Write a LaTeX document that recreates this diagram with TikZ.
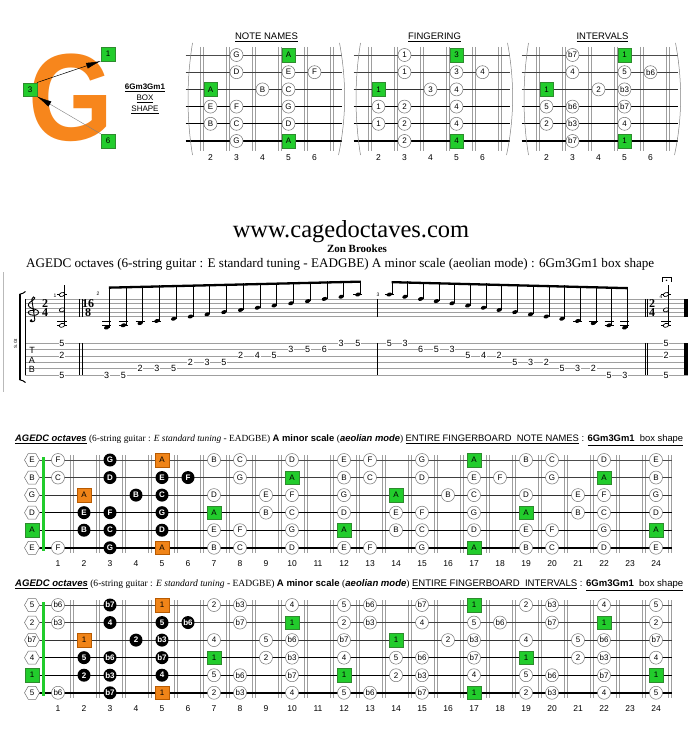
\documentclass[tikz,border=0pt]{standalone}
\usepackage{fontspec}
\usepackage{graphicx}
\setmainfont{Liberation Serif}
\setsansfont{Liberation Sans}
\usetikzlibrary{shapes.geometric,arrows.meta}
\definecolor{gfill}{HTML}{22CC2C}
\definecolor{gline}{HTML}{2E8B2E}
\definecolor{ofill}{HTML}{F08418}
\definecolor{oline}{HTML}{B85A00}
\definecolor{logoG}{HTML}{F7861C}
\definecolor{fretgray}{gray}{0.62}
\definecolor{circgray}{gray}{0.45}
\newcommand\sfs[1]{\sffamily\fontsize{#1}{#1}\selectfont}
\newcommand\rms[1]{\rmfamily\fontsize{#1}{#1}\selectfont}
\tikzset{
  nw/.style={circle,draw=circgray,fill=white,line width=0.5pt,inner sep=0pt,minimum size=13pt,font=\sfs{8}},
  nb/.style={circle,fill=black,text=white,inner sep=0pt,minimum size=13pt,font=\sfs{8}\bfseries},
  ng/.style={rectangle,fill=gfill,draw=gline,line width=0.4pt,inner sep=0pt,minimum size=13.5pt,font=\sfs{8}},
  no/.style={rectangle,fill=ofill,draw=oline,line width=0.4pt,inner sep=0pt,minimum size=13.5pt,font=\sfs{8}},
  nh/.style={regular polygon,regular polygon sides=6,draw=circgray,fill=white,line width=0.5pt,inner sep=0pt,minimum size=15pt,font=\sfs{8}},
  fretline/.style={fretgray,line width=0.5pt},
  tabnum/.style={fill=white,inner sep=0.6pt,font=\sfs{9}},
  stafl/.style={gray!75,line width=0.4pt},
  thinbar/.style={black,line width=0.5pt},
  ledger/.style={black,line width=0.5pt},
  ehead/.style={ellipse,fill=black,inner sep=0pt,minimum width=5.6pt,minimum height=3.8pt,rotate=20},
  hhead/.style={ellipse,draw=black,line width=0.7pt,fill=white,inner sep=0pt,minimum width=5.6pt,minimum height=3.8pt,rotate=20},
  mnum/.style={font=\sfs{5},inner sep=0pt},
  tsig/.style={font=\rms{12}\bfseries,inner sep=0pt},
}
\newcommand\notelist{%
1/1/F/b6/nw,1/3/G/b7/nb,1/5/A/1/no,1/7/B/2/nw,1/8/C/b3/nw,1/10/D/4/nw,1/12/E/5/nw,1/13/F/b6/nw,1/15/G/b7/nw,1/17/A/1/ng,1/19/B/2/nw,1/20/C/b3/nw,1/22/D/4/nw,1/24/E/5/nw,%
2/1/C/b3/nw,2/3/D/4/nb,2/5/E/5/nb,2/6/F/b6/nb,2/8/G/b7/nw,2/10/A/1/ng,2/12/B/2/nw,2/13/C/b3/nw,2/15/D/4/nw,2/17/E/5/nw,2/18/F/b6/nw,2/20/G/b7/nw,2/22/A/1/ng,2/24/B/2/nw,%
3/2/A/1/no,3/4/B/2/nb,3/5/C/b3/nb,3/7/D/4/nw,3/9/E/5/nw,3/10/F/b6/nw,3/12/G/b7/nw,3/14/A/1/ng,3/16/B/2/nw,3/17/C/b3/nw,3/19/D/4/nw,3/21/E/5/nw,3/22/F/b6/nw,3/24/G/b7/nw,%
4/2/E/5/nb,4/3/F/b6/nb,4/5/G/b7/nb,4/7/A/1/ng,4/9/B/2/nw,4/10/C/b3/nw,4/12/D/4/nw,4/14/E/5/nw,4/15/F/b6/nw,4/17/G/b7/nw,4/19/A/1/ng,4/21/B/2/nw,4/22/C/b3/nw,4/24/D/4/nw,%
5/2/B/2/nb,5/3/C/b3/nb,5/5/D/4/nb,5/7/E/5/nw,5/8/F/b6/nw,5/10/G/b7/nw,5/12/A/1/ng,5/14/B/2/nw,5/15/C/b3/nw,5/17/D/4/nw,5/19/E/5/nw,5/20/F/b6/nw,5/22/G/b7/nw,5/24/A/1/ng,%
6/1/F/b6/nw,6/3/G/b7/nb,6/5/A/1/no,6/7/B/2/nw,6/8/C/b3/nw,6/10/D/4/nw,6/12/E/5/nw,6/13/F/b6/nw,6/15/G/b7/nw,6/17/A/1/ng,6/19/B/2/nw,6/20/C/b3/nw,6/22/D/4/nw,6/24/E/5/nw}
\newcommand\smalllist{1/3/G/1/b7/nw,1/5/A/3/1/ng,2/3/D/1/4/nw,2/5/E/3/5/nw,2/6/F/4/b6/nw,3/2/A/1/1/ng,3/4/B/3/2/nw,3/5/C/4/b3/nw,4/2/E/1/5/nw,4/3/F/2/b6/nw,4/5/G/4/b7/nw,5/2/B/1/2/nw,5/3/C/2/b3/nw,5/5/D/4/4/nw,6/3/G/2/b7/nw,6/5/A/4/1/ng}
\newcommand\stringwidths{1/0.5/black!70,2/0.6/black!75,3/0.7/black!80,4/0.9/black,5/1.4/black,6/2.0/black}
% full fingerboard: #1 y0, #2 mode (1 names, 2 intervals), #3 prefix
\newcommand\fullboard[3]{%
  \foreach \f in {2,...,25} {
    \draw[fretline] ({20+26*\f-1.3},{#1-5}) -- ({20+26*\f-1.3},{#1+93});
    \draw[fretline] ({20+26*\f+1.3},{#1-5}) -- ({20+26*\f+1.3},{#1+93});
  }
  \foreach \s/\w/\c in \stringwidths
    \draw[line width=\w pt,\c] (32,{#1+17.55*(\s-1)}) -- (672,{#1+17.55*(\s-1)});
  \fill[gfill] (41.8,{#1-3}) rectangle (44.8,{#1+90.75});
  \foreach \s/\nn/\iv/\ty in {1/E/5/nh,2/B/2/nh,3/G/b7/nh,4/D/4/nh,5/A/1/ng,6/E/5/nh}
    \node[\ty] (#3o\s) at (32,{#1+17.55*(\s-1)}) {\ifnum#2=1 \nn\else\iv\fi};
  \foreach \s/\f/\nn/\iv/\ty in \notelist
    \node[\ty] (#3n\s-\f) at ({32+26*\f},{#1+17.55*(\s-1)}) {\ifnum#2=1 \nn\else\iv\fi};
  \foreach \f in {1,...,24}
    \node[font=\sfs{8.5}] (#3f\f) at ({32+26*\f},{#1+103.3}) {\f};
}
% small box: #1 ox, #2 mode, #3 title, #4 prefix
\newcommand\smallboard[4]{%
  \node[font=\sfs{9.5}] (#4t) at ({#1+108},37.5) {\underline{#3}};
  \foreach \f in {2,...,7} {
    \draw[fretline] ({#1+26*\f-9-1.4},47) -- ({#1+26*\f-9-1.4},151);
    \draw[fretline] ({#1+26*\f-9+1.4},47) -- ({#1+26*\f-9+1.4},151);
  }
  \foreach \s/\w/\c in \stringwidths
    \draw[line width=\w pt,\c] ({#1+27},{55+17.2*(\s-1)}) -- ({#1+183},{55+17.2*(\s-1)});
  \draw[gray,line width=0.5pt] ({#1+34},43) .. controls ({#1+28},80) and ({#1+28},118) .. ({#1+34},155);
  \draw[gray,line width=0.5pt] ({#1+181},43) .. controls ({#1+188},80) and ({#1+188},118) .. ({#1+180},155);
  \foreach \s/\f/\nn/\g/\iv/\ty in \smalllist
    \node[\ty] (#4n\s-\f) at ({#1+26*\f},{55+17.2*(\s-1)}) {\ifcase#2\or\nn\or\g\or\iv\fi};
  \foreach \f in {2,...,6}
    \node[font=\sfs{8.5}] (#4f\f) at ({#1+26*\f},158) {\f};
}
\newcommand\hdrtext[1]{\fontsize{10}{10}\selectfont
  \sffamily\bfseries\itshape\underline{AGEDC octaves}\normalfont\rmfamily\ (6-string guitar : \textit{E standard tuning} - EADGBE) \sffamily\bfseries A minor scale \normalfont\rmfamily(\sffamily\bfseries\itshape aeolian mode\normalfont\rmfamily) \sffamily\underline{ENTIRE FINGERBOARD\ \ #1} : \underline{\bfseries 6Gm3Gm1\mdseries\ \ box shape}}
\begin{document}
\begin{tikzpicture}[x=1pt,y=-1pt]
\useasboundingbox (0,0) rectangle (700,746);
\fill[white] (0,0) rectangle (700,746);

% ---------- logo ----------
\node[font=\fontsize{124}{124}\selectfont\sffamily\bfseries,text=logoG,xscale=0.88,inner sep=0pt,anchor=base] (logo) at (71,141) {G};
\node[ng] (L1) at (108,54) {1};
\node[ng] (L3) at (30,89.5) {3};
\node[ng] (L6) at (108,141) {6};
\draw[black,line width=0.5pt,-{Latex[length=15pt,width=6pt]}] (L3.north east) -- (L1.south west);
\draw[gray,line width=0.4pt,-{Latex[length=15pt,width=6pt,color=black]}] (L6.north west) -- (L3.south east);
\node[font=\sfs{8}\bfseries] (lt1) at (145,87.5) {\underline{6Gm3Gm1}};
\node[font=\sfs{8}] (lt2) at (145,98.5) {\underline{BOX}};
\node[font=\sfs{8}] (lt3) at (145,110) {\underline{SHAPE}};

% ---------- small boxes ----------
\smallboard{158.5}{1}{NOTE NAMES}{sa}
\smallboard{326.5}{2}{FINGERING}{sb}
\smallboard{494.5}{3}{INTERVALS}{sc}

% ---------- titles ----------
\node[font=\rms{24.5}] (web) at (351,232) {www.cagedoctaves.com};
\node[font=\rms{11}\bfseries] (zon) at (357,249) {Zon Brookes};
\node[anchor=west,inner sep=0pt] (sub) at (26,264) {\resizebox{628pt}{!}{\rms{13}AGEDC octaves (6-string guitar : E standard tuning - EADGBE) A minor scale (aeolian mode) : 6Gm3Gm1 box shape}};

% ---------- staff ----------
\draw[gray!55,line width=0.6pt] (3,272) -- (3,392);
\foreach \k in {0,...,4} \draw[stafl] (25,{298.9+4.4*\k}) -- (687.5,{298.9+4.4*\k});
\foreach \j in {1,...,6} \draw[stafl] (25,{343+6.4*(\j-1)}) -- (687.5,{343+6.4*(\j-1)});
\draw[thinbar] (25,298.9) -- (25,375);
\draw[line width=2pt] (20,294) -- (20,380);
\draw[line width=1pt] (19.5,294.3) .. controls (22,293.8) and (24,293) .. (25.5,291.5);
\draw[line width=1pt] (19.5,379.7) .. controls (22,380.2) and (24,381) .. (25.5,382.5);
\node[rotate=90,font=\sfs{4.5}] (sgt) at (15.5,343.5) {S.Gt};
% treble clef
\begin{scope}[shift={(33,312.1)},x=6pt,y=3.3pt]
\draw[line width=0.9pt] (0.3,0.35) .. controls (0.0,0.7) and (-0.8,0.5) .. (-0.8,-0.1)
 .. controls (-0.8,-0.8) and (0.0,-1.1) .. (0.5,-0.9)
 .. controls (1.1,-0.6) and (1.1,0.5) .. (0.4,0.8)
 .. controls (-0.5,1.2) and (-1.0,1.8) .. (-0.7,2.6)
 .. controls (-0.5,3.2) and (0.2,3.6) .. (0.3,4.3)
 .. controls (0.35,4.8) and (-0.2,4.7) .. (-0.2,3.9)
 -- (0.3,-2.3)
 .. controls (0.35,-3.0) and (-0.5,-3.1) .. (-0.5,-2.6);
\fill (-0.3,-2.5) circle (1.3pt);
\end{scope}
% TAB letters
\node[font=\sfs{9},inner sep=0pt] (tT) at (32,350) {T};
\node[font=\sfs{9},inner sep=0pt] (tA) at (32,360.3) {A};
\node[font=\sfs{9},inner sep=0pt] (tB) at (32,369.5) {B};
% time signatures
\node[tsig] (ts1a) at (45,303.3) {2};
\node[tsig] (ts1b) at (45,312.1) {4};
\node[tsig] (ts2a) at (88,303.3) {16};
\node[tsig] (ts2b) at (88,312.1) {8};
\node[tsig] (ts3a) at (652,303.3) {2};
\node[tsig] (ts3b) at (652,312.1) {4};
% barlines
\foreach \bx in {79,82,377.7,645,647.5,684} {
  \draw[thinbar] (\bx,298.9) -- (\bx,316.5);
  \draw[thinbar] (\bx,343) -- (\bx,375);
}
\draw[line width=2.2pt] (686.5,298.9) -- (686.5,316.5);
\draw[line width=2.2pt] (686.5,343) -- (686.5,375);
% measure numbers
\node[mnum] (m1) at (55,295.5) {1};
\node[mnum] (m2) at (98,294) {2};
\node[mnum] (m3) at (378,294.5) {3};
\node[mnum] (m4) at (661,296.5) {4};
% fermata
\draw[line width=0.8pt] (662,281.5) -- (662,277.5) -- (671,277.5) -- (671,281.5);
\fill (666.5,280.3) circle (0.8pt);
% chords
\foreach \cx/\cn in {62/a,666/b} {
  \draw[ledger] ({\cx-4.8},294.5) -- ({\cx+4.8},294.5);
  \draw[ledger] ({\cx-4.8},320.9) -- ({\cx+4.8},320.9);
  \draw[ledger] ({\cx-4.8},325.3) -- ({\cx+4.8},325.3);
  \node[hhead] (ch\cn1) at (\cx,294.5) {};
  \node[hhead] (ch\cn2) at (\cx,309.9) {};
  \node[hhead] (ch\cn3) at (\cx,325.3) {};
  \draw[line width=0.5pt] ({\cx+2.6},325.3) -- ({\cx+2.6},285);
  \node[tabnum] (tc\cn1) at (\cx,343) {5};
  \node[tabnum] (tc\cn3) at (\cx,355.8) {2};
  \node[tabnum] (tc\cn6) at (\cx,375) {5};
}
% measure 2 ascending
\fill (108.9,286.5) -- (360.8,280.5) -- (360.8,282.8) -- (108.9,288.8) -- cycle;
\foreach \st [count=\k from 0] in {-5,-4,...,10} {
  \pgfmathsetmacro\xx{106.7+16.75*\k}
  \pgfmathsetmacro\yy{316.5-2.2*\st}
  \pgfmathsetmacro\by{286.5-6*\k/15}
  \ifnum\st<-1 \draw[ledger] ({\xx-4.5},320.9) -- ({\xx+4.5},320.9); \fi
  \ifnum\st<-3 \draw[ledger] ({\xx-4.5},325.3) -- ({\xx+4.5},325.3); \fi
  \ifnum\st>9 \draw[ledger] ({\xx-4.5},294.5) -- ({\xx+4.5},294.5); \fi
  \node[ehead] (ma\k) at (\xx,\yy) {};
  \draw[line width=0.5pt] ({\xx+2.5},\yy) -- ({\xx+2.5},\by);
}
\foreach \s/\f [count=\k from 0] in {6/3,6/5,5/2,5/3,5/5,4/2,4/3,4/5,3/2,3/4,3/5,2/3,2/5,2/6,1/3,1/5}
  \node[tabnum] (ta\k) at ({106.7+16.75*\k},{343+6.4*(\s-1)}) {\f};
% measure 3 descending
\fill (391.5,281) -- (627.6,287) -- (627.6,289.3) -- (391.5,283.3) -- cycle;
\foreach \st [count=\k from 0] in {10,9,...,-5} {
  \pgfmathsetmacro\xx{389.3+15.7*\k}
  \pgfmathsetmacro\yy{316.5-2.2*\st}
  \pgfmathsetmacro\by{281+6*\k/15}
  \ifnum\st<-1 \draw[ledger] ({\xx-4.5},320.9) -- ({\xx+4.5},320.9); \fi
  \ifnum\st<-3 \draw[ledger] ({\xx-4.5},325.3) -- ({\xx+4.5},325.3); \fi
  \ifnum\st>9 \draw[ledger] ({\xx-4.5},294.5) -- ({\xx+4.5},294.5); \fi
  \node[ehead] (mb\k) at (\xx,\yy) {};
  \draw[line width=0.5pt] ({\xx+2.5},\yy) -- ({\xx+2.5},\by);
}
\foreach \s/\f [count=\k from 0] in {1/5,1/3,2/6,2/5,2/3,3/5,3/4,3/2,4/5,4/3,4/2,5/5,5/3,5/2,6/5,6/3}
  \node[tabnum] (tb\k) at ({389.3+15.7*\k},{343+6.4*(\s-1)}) {\f};

% ---------- full fingerboards ----------
\node[anchor=west,inner sep=0pt] (h1) at (15,440) {\resizebox{668pt}{!}{\hdrtext{NOTE NAMES}}};
\fullboard{460}{1}{A}
\node[anchor=west,inner sep=0pt] (h2) at (15,585) {\resizebox{668pt}{!}{\hdrtext{INTERVALS}}};
\fullboard{605}{2}{B}
\end{tikzpicture}
\end{document}
